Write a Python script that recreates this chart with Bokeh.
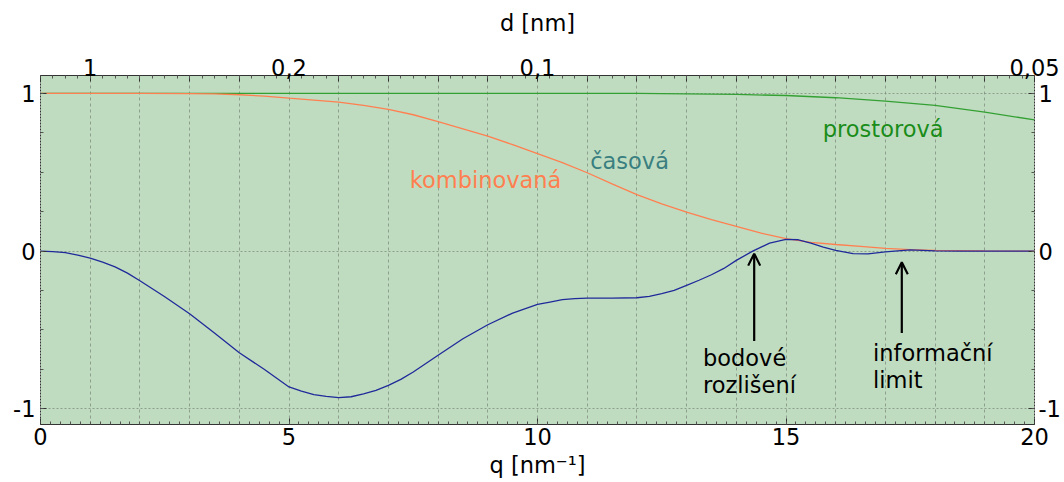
from bokeh.plotting import figure
from bokeh.models import (FixedTicker, LinearAxis, Label, Arrow, OpenHead, Range1d)
from bokeh.embed import file_html
from bokeh.resources import INLINE

# ---------------- data ----------------
q_ctf = [0, 0.25, 0.5, 0.75, 1, 1.25, 1.5, 1.75, 2, 2.5, 3, 3.5, 4, 4.5, 5, 5.25,
         5.5, 5.75, 6, 6.25, 6.5, 6.75, 7, 7.25, 7.5, 8, 8.5, 9, 9.5, 10, 10.25,
         10.5, 10.75, 11, 11.5, 12, 12.25, 12.5, 12.75, 13, 13.25, 13.5, 13.75,
         14, 14.33, 14.67, 15, 15.25, 15.5, 15.75, 16, 16.35, 16.65, 17, 17.5,
         18, 18.5, 19, 20]
ctf = [0, -0.003, -0.01, -0.025, -0.044, -0.07, -0.10, -0.14, -0.188, -0.29,
       -0.397, -0.52, -0.645, -0.75, -0.862, -0.888, -0.911, -0.922, -0.930,
       -0.924, -0.905, -0.883, -0.852, -0.814, -0.767, -0.661, -0.556, -0.467,
       -0.393, -0.338, -0.323, -0.308, -0.302, -0.298, -0.298, -0.296, -0.287,
       -0.270, -0.249, -0.217, -0.185, -0.15, -0.11, -0.059, 0.0, 0.051, 0.074,
       0.072, 0.051, 0.025, 0.004, -0.016, -0.017, -0.005, 0.008, 0.002, 0.0,
       0.0, 0.0]

q_env = [0, 1, 2, 3, 3.5, 4, 4.5, 5, 5.5, 6, 6.5, 7, 7.5, 8, 8.5, 9, 9.5, 10,
         10.5, 11, 11.5, 12, 12.5, 13, 13.5, 14, 14.5, 15, 15.5, 16, 16.5, 17,
         17.5, 18, 19, 20]
kombinovana = [1, 1, 1, 0.999, 0.997, 0.992, 0.983, 0.970, 0.958, 0.945, 0.924,
               0.899, 0.865, 0.822, 0.776, 0.729, 0.675, 0.618, 0.561, 0.497,
               0.427, 0.358, 0.300, 0.247, 0.199, 0.157, 0.114, 0.079, 0.055,
               0.042, 0.030, 0.017, 0.010, 0.004, 0.001, 0.0]

q_spat = [0, 3, 6, 9, 12, 13, 14, 15, 16, 17, 18, 19, 20]
prostorova = [1, 1, 1, 1, 1.0, 0.998, 0.994, 0.987, 0.973, 0.951, 0.924, 0.881, 0.833]

bottom_ticks = [0, 5, 10, 15, 20]
top_tick_q = [1, 5, 10, 20]
top_tick_labels = ["1", "0,2", "0,1", "0,05"]
y_ticks = [-1, 0, 1]
y_tick_labels = ["-1", "0", "1"]

FONT = "DejaVu Sans"
FS = "22.5px"
BG = "#C0DCC0"

p = figure(width=1064, height=482, output_backend="svg", toolbar_location=None,
           x_range=Range1d(0, 20), y_range=Range1d(-1.1, 1.114),
           min_border_left=40, min_border_right=30, min_border_top=75,
           min_border_bottom=58, background_fill_color=BG,
           border_fill_color="white", outline_line_color=None)

# grids
p.xgrid.ticker = FixedTicker(ticks=list(range(0, 21)))
p.xgrid.grid_line_color = "#7f8f7f"
p.xgrid.grid_line_dash = "3 3"
p.xgrid.grid_line_alpha = 0.8
p.ygrid.ticker = FixedTicker(ticks=y_ticks)
p.ygrid.grid_line_color = "#7f8f7f"
p.ygrid.grid_line_dash = "2 2"
p.ygrid.grid_line_alpha = 0.8

minor_x = [i * 0.2 for i in range(0, 101)]
minor_y = [-1.0 + i * 0.25 for i in range(0, 9)]
y_over = dict(zip(y_ticks, y_tick_labels))


def style_axis(ax, standoff):
    ax.major_label_text_font = FONT
    ax.major_label_text_font_size = FS
    ax.major_label_text_color = "black"
    ax.axis_line_color = "#333333"
    ax.major_tick_line_color = "#333333"
    ax.minor_tick_line_color = "#555555"
    ax.major_tick_in = 6
    ax.major_tick_out = 0
    ax.minor_tick_in = 3
    ax.minor_tick_out = 0
    ax.major_label_standoff = standoff
    ax.axis_label_text_font = FONT
    ax.axis_label_text_font_size = FS
    ax.axis_label_text_font_style = "normal"
    ax.axis_label_text_color = "black"


# bottom axis
xb = p.xaxis[0]
xb.ticker = FixedTicker(ticks=bottom_ticks, minor_ticks=minor_x)
style_axis(xb, 3)
xb.axis_label = "q [nm⁻¹]"
xb.axis_label_standoff = 4

# left axis
yl = p.yaxis[0]
yl.ticker = FixedTicker(ticks=y_ticks, minor_ticks=minor_y)
yl.major_label_overrides = y_over
style_axis(yl, 5)
yl.axis_line_dash = "2 1"

# right axis
yr = LinearAxis(ticker=FixedTicker(ticks=y_ticks, minor_ticks=minor_y))
yr.major_label_overrides = y_over
style_axis(yr, 4)
yr.axis_line_dash = "2 1"
p.add_layout(yr, "right")

# top axis (d = 1/q)
xt = LinearAxis(ticker=FixedTicker(ticks=list(range(0, 21)),
                                   minor_ticks=[i * 0.25 for i in range(0, 81)]))
overrides = {i: "" for i in range(0, 21)}
for tq, tl in zip(top_tick_q, top_tick_labels):
    overrides[tq] = tl
xt.major_label_overrides = overrides
style_axis(xt, 0)
xt.axis_label = "d [nm]"
xt.axis_label_standoff = 20
p.add_layout(xt, "above")

# curves
p.line(q_spat, prostorova, line_color="#33a033", line_width=1.3)
p.line(q_env, kombinovana, line_color="#FF7F50", line_width=1.3)
p.line(q_ctf, ctf, line_color="#1f2a9a", line_width=1.3)


# texts
def lab(x, y, t, color="black", align="left"):
    p.add_layout(Label(x=x, y=y, text=t, text_font=FONT, text_font_size=FS,
                       text_color=color, text_align=align,
                       text_baseline="alphabetic"))


lab(7.43, 0.452, "kombinovaná", "#FF7F50")
lab(11.06, 0.574, "časová", "#3a7f80")
lab(15.74, 0.772, "prostorová", "#1a8c1a")
lab(13.33, -0.68, "bodové")
lab(13.33, -0.849, "rozlišení")
lab(16.75, -0.648, "informační")
lab(16.75, -0.817, "limit")

# arrows
p.add_layout(Arrow(end=OpenHead(size=12, line_width=2.2, line_color="black"),
                   x_start=14.36, y_start=-0.57, x_end=14.36, y_end=-0.016,
                   line_width=2.2, line_color="black"))
p.add_layout(Arrow(end=OpenHead(size=12, line_width=2.2, line_color="black"),
                   x_start=17.33, y_start=-0.52, x_end=17.33, y_end=-0.07,
                   line_width=2.2, line_color="black"))

open("out.html", "w").write(file_html(p, INLINE))
